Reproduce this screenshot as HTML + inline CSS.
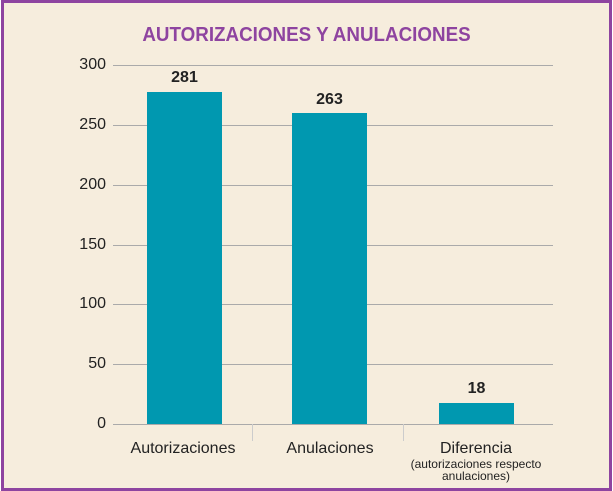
<!DOCTYPE html><html><head><style>
body{margin:0;width:613px;height:491px;background:#fff;position:relative;overflow:hidden;font-family:"Liberation Sans",Arial,sans-serif;}
.f{position:absolute;left:1px;top:0;width:605px;height:485px;border:3px solid #8e44a0;background:#f6eddd;}
.t{position:absolute;left:0;width:613px;top:24px;text-align:center;font-weight:bold;font-size:20px;color:#8e44a0;transform:scaleX(0.94);}
.g{position:absolute;left:113px;width:440px;height:1px;background:#aaa;}
.y{position:absolute;left:60px;width:46px;text-align:right;font-size:16px;color:#222;}
.b{position:absolute;background:#0098b0;}
.v{position:absolute;width:75px;text-align:center;font-weight:bold;font-size:16px;color:#222;}
.l{position:absolute;text-align:center;font-size:16px;color:#222;}
.s{position:absolute;top:424px;width:1px;height:17px;background:#ccc;}
</style></head><body><div class="f"></div>
<div class="t">AUTORIZACIONES Y ANULACIONES</div>
<div class="g" style="top:65px"></div><div class="g" style="top:125px"></div><div class="g" style="top:185px"></div><div class="g" style="top:245px"></div><div class="g" style="top:304px"></div><div class="g" style="top:364px"></div><div class="g" style="top:424px"></div>
<div class="y" style="top:56px">300</div><div class="y" style="top:116px">250</div><div class="y" style="top:176px">200</div><div class="y" style="top:236px">150</div><div class="y" style="top:295px">100</div><div class="y" style="top:355px">50</div><div class="y" style="top:415px">0</div>
<div class="b" style="left:147px;top:92px;width:75px;height:332px"></div>
<div class="b" style="left:292px;top:113px;width:75px;height:311px"></div>
<div class="b" style="left:439px;top:403px;width:75px;height:21px"></div>
<div class="v" style="left:147px;top:69px">281</div>
<div class="v" style="left:292px;top:91px">263</div>
<div class="v" style="left:439px;top:380px">18</div>
<div class="s" style="left:252px"></div><div class="s" style="left:403px"></div>
<div class="l" style="left:113px;width:140px;top:440px">Autorizaciones</div>
<div class="l" style="left:260px;width:140px;top:440px">Anulaciones</div>
<div class="l" style="left:400px;width:152px;top:440px">Diferencia<div style="font-size:12px;line-height:12px">(autorizaciones respecto<br>anulaciones)</div></div>
</body></html>
